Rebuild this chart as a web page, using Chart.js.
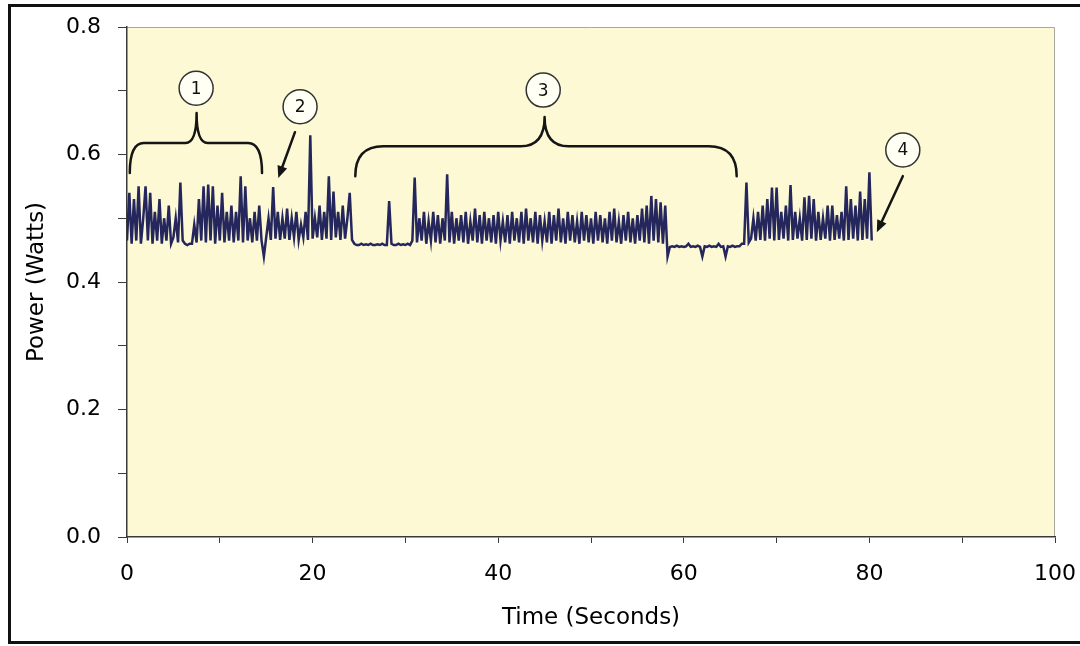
<!DOCTYPE html>
<html>
<head>
<meta charset="utf-8">
<title>Power trace</title>
<script src="https://cdn.jsdelivr.net/npm/chart.js@4.4.1/dist/chart.umd.min.js"></script>
<style>
    html, body { margin: 0; padding: 0; background: #fff; }
    canvas { display: block; }
</style>
</head>
<body>
<canvas id="powerChart" width="1080" height="646"></canvas>
<script>
// =====================
// Data (one row = one second, 4 samples per second)
// =====================
const sampleStep = 0.25; // seconds between samples
const power = [
    0.465, 0.54, 0.46, 0.53,
    0.465, 0.55, 0.46, 0.50,
    0.55, 0.465, 0.54, 0.46,
    0.51, 0.465, 0.53, 0.46,
    0.50, 0.465, 0.52, 0.46,
    0.47, 0.50, 0.462, 0.556,
    0.465, 0.46, 0.458, 0.46,
    0.46, 0.49, 0.462, 0.53,
    0.465, 0.55, 0.462, 0.553,
    0.465, 0.55, 0.46, 0.52,
    0.465, 0.54, 0.462, 0.51,
    0.465, 0.52, 0.462, 0.51,
    0.465, 0.566, 0.462, 0.55,
    0.465, 0.50, 0.462, 0.51,
    0.465, 0.52, 0.465, 0.44,
    0.47, 0.50, 0.466, 0.549,
    0.468, 0.51, 0.466, 0.50,
    0.468, 0.515, 0.466, 0.50,
    0.47, 0.51, 0.466, 0.49,
    0.47, 0.51, 0.466, 0.63,
    0.468, 0.50, 0.47, 0.52,
    0.466, 0.51, 0.468, 0.566,
    0.466, 0.542, 0.47, 0.51,
    0.466, 0.52, 0.468, 0.50,
    0.54, 0.466, 0.46, 0.458,
    0.458, 0.46, 0.458, 0.459,
    0.458, 0.46, 0.458, 0.458,
    0.459, 0.458, 0.46, 0.458,
    0.458, 0.527, 0.46, 0.458,
    0.458, 0.46, 0.458, 0.459,
    0.458, 0.46, 0.458, 0.465,
    0.564, 0.462, 0.50, 0.465,
    0.51, 0.46, 0.495, 0.465,
    0.51, 0.462, 0.505, 0.46,
    0.50, 0.465, 0.569, 0.462,
    0.51, 0.46, 0.50, 0.465,
    0.505, 0.462, 0.51, 0.46,
    0.495, 0.465, 0.515, 0.462,
    0.505, 0.46, 0.51, 0.465,
    0.50, 0.462, 0.505, 0.46,
    0.51, 0.465, 0.495, 0.462,
    0.505, 0.46, 0.51, 0.465,
    0.50, 0.462, 0.51, 0.46,
    0.515, 0.465, 0.50, 0.462,
    0.51, 0.46, 0.505, 0.465,
    0.495, 0.462, 0.51, 0.46,
    0.505, 0.465, 0.515, 0.462,
    0.50, 0.46, 0.51, 0.465,
    0.505, 0.462, 0.495, 0.46,
    0.51, 0.465, 0.505, 0.462,
    0.50, 0.46, 0.51, 0.465,
    0.505, 0.462, 0.50, 0.46,
    0.51, 0.465, 0.515, 0.462,
    0.495, 0.46, 0.505, 0.465,
    0.51, 0.462, 0.50, 0.46,
    0.505, 0.465, 0.515, 0.462,
    0.52, 0.46, 0.535, 0.465,
    0.53, 0.462, 0.525, 0.46,
    0.52, 0.44, 0.455, 0.456,
    0.455, 0.457, 0.455, 0.456,
    0.455, 0.456, 0.46, 0.455,
    0.456, 0.455, 0.457, 0.455,
    0.44, 0.456, 0.455, 0.457,
    0.455, 0.456, 0.455, 0.46,
    0.455, 0.456, 0.44, 0.456,
    0.455, 0.457, 0.455, 0.456,
    0.456, 0.46, 0.46, 0.556,
    0.462, 0.468, 0.50, 0.465,
    0.51, 0.466, 0.52, 0.465,
    0.53, 0.468, 0.548, 0.465,
    0.548, 0.466, 0.51, 0.468,
    0.52, 0.465, 0.552, 0.466,
    0.51, 0.468, 0.50, 0.465,
    0.533, 0.466, 0.535, 0.468,
    0.53, 0.465, 0.51, 0.466,
    0.50, 0.468, 0.52, 0.465,
    0.52, 0.466, 0.505, 0.468,
    0.51, 0.465, 0.55, 0.466,
    0.53, 0.468, 0.52, 0.465,
    0.542, 0.466, 0.53, 0.468,
    0.572, 0.465
];

const xTickLabels = ['0', '20', '40', '60', '80', '100'];
const yTickLabels = ['0.0', '0.2', '0.4', '0.6', '0.8'];

// =====================
// Callouts (in data units)
// =====================
const braces = [
    { from: 0.3, to: 14.55, tip: 7.5, end: 0.571, bar: 0.618, top: 0.665, r: 14, rTip: 11 },
    { from: 24.6, to: 65.7, tip: 45.0, end: 0.566, bar: 0.613, top: 0.659, r: 28, rTip: 24 }
];
const markers = [
    { label: '1', t: 7.45, v: 0.704 },
    { label: '2', t: 18.65, v: 0.675 },
    { label: '3', t: 44.85, v: 0.701 },
    { label: '4', t: 83.6, v: 0.607 }
];
const arrows = [
    { t0: 18.1, v0: 0.635, t1: 16.3, v1: 0.563 },
    { t0: 83.6, v0: 0.566, t1: 80.8, v1: 0.478 }
];

const points = power.map((p, i) => ({ x: i * sampleStep, y: p }));

const framePlugin = {
    id: 'frame',
    beforeDraw(chart) {
        const { ctx, chartArea: a } = chart;
        ctx.save();
        ctx.fillStyle = '#ffffff';
        ctx.fillRect(0, 0, chart.width, chart.height);
        ctx.fillStyle = '#fcf9d4';
        ctx.fillRect(a.left, a.top, a.right - a.left, a.bottom - a.top);
        ctx.strokeStyle = '#a8a8a0';
        ctx.lineWidth = 1;
        ctx.beginPath();
        ctx.moveTo(a.left, a.top + 0.5);
        ctx.lineTo(a.right - 0.5, a.top + 0.5);
        ctx.lineTo(a.right - 0.5, a.bottom);
        ctx.stroke();
        // outer black border
        ctx.strokeStyle = '#111';
        ctx.lineWidth = 3;
        ctx.strokeRect(9.5, 5.5, chart.width + 10, chart.height - 9);
        ctx.restore();
    }
};

const calloutPlugin = {
    id: 'callouts',
    afterDatasetsDraw(chart) {
        const { ctx } = chart;
        const xs = chart.scales.x, ys = chart.scales.y;
        ctx.save();
        ctx.strokeStyle = '#151515';
        ctx.lineWidth = 2.5;
        ctx.lineCap = 'round';
        ctx.lineJoin = 'round';
        braces.forEach(b => {
            const x0 = xs.getPixelForValue(b.from), x1 = xs.getPixelForValue(b.to);
            const xm = xs.getPixelForValue(b.tip);
            const yE = ys.getPixelForValue(b.end), yB = ys.getPixelForValue(b.bar), yT = ys.getPixelForValue(b.top);
            ctx.beginPath();
            ctx.moveTo(x0, yE);
            ctx.quadraticCurveTo(x0, yB, x0 + b.r, yB);
            ctx.lineTo(xm - b.rTip, yB);
            ctx.quadraticCurveTo(xm, yB, xm, yT);
            ctx.quadraticCurveTo(xm, yB, xm + b.rTip, yB);
            ctx.lineTo(x1 - b.r, yB);
            ctx.quadraticCurveTo(x1, yB, x1, yE);
            ctx.stroke();
        });

        ctx.fillStyle = '#151515';
        ctx.lineWidth = 2.5;
        arrows.forEach(a => {
            const x0 = xs.getPixelForValue(a.t0), y0 = ys.getPixelForValue(a.v0);
            const x1 = xs.getPixelForValue(a.t1), y1 = ys.getPixelForValue(a.v1);
            const ang = Math.atan2(y1 - y0, x1 - x0);
            const head = 13;
            ctx.beginPath();
            ctx.moveTo(x0, y0);
            ctx.lineTo(x1 - Math.cos(ang) * head * 0.7, y1 - Math.sin(ang) * head * 0.7);
            ctx.stroke();
            ctx.beginPath();
            ctx.moveTo(x1, y1);
            ctx.lineTo(x1 - head * Math.cos(ang - 0.4), y1 - head * Math.sin(ang - 0.4));
            ctx.lineTo(x1 - head * Math.cos(ang + 0.4), y1 - head * Math.sin(ang + 0.4));
            ctx.closePath();
            ctx.fill();
        });

        markers.forEach(m => {
            const x = xs.getPixelForValue(m.t), y = ys.getPixelForValue(m.v);
            ctx.beginPath();
            ctx.arc(x, y, 17, 0, Math.PI * 2);
            ctx.fillStyle = '#fffff4';
            ctx.fill();
            ctx.strokeStyle = '#333';
            ctx.lineWidth = 1.5;
            ctx.stroke();
            ctx.fillStyle = '#111';
            ctx.font = '17px "DejaVu Sans"';
            ctx.textAlign = 'center';
            ctx.textBaseline = 'middle';
            ctx.fillText(m.label, x, y + 1);
        });
        ctx.restore();
    }
};

const tickFont = { family: '"DejaVu Sans", Verdana, sans-serif', size: 22 };
const titleFont = { family: '"DejaVu Sans", Verdana, sans-serif', size: 23 };

new Chart(document.getElementById('powerChart'), {
    type: 'line',
    data: {
        datasets: [{
            data: points,
            borderColor: '#25275c',
            borderWidth: 2.5,
            pointRadius: 0,
            tension: 0,
            fill: false
        }]
    },
    options: {
        responsive: false,
        animation: false,
        devicePixelRatio: 1,
        layout: { padding: { left: 0, right: 25, top: 27, bottom: 0 } },
        plugins: {
            legend: { display: false },
            tooltip: { enabled: false }
        },
        scales: {
            x: {
                type: 'linear',
                min: 0,
                max: 100,
                afterFit: s => {
                    s.height = 109;
                    s.paddingLeft = 0;
                    s.paddingRight = 0;
                },
                border: { color: '#3a3a3a', width: 1.5 },
                grid: { drawOnChartArea: false, drawTicks: true, tickLength: 6, color: '#3a3a3a' },
                ticks: {
                    stepSize: 10,
                    padding: 18,
                    color: '#000',
                    font: tickFont,
                    maxRotation: 0,
                    autoSkip: false,
                    callback: v => xTickLabels.includes(String(v)) ? String(v) : ''
                },
                title: {
                    display: true,
                    text: 'Time (Seconds)',
                    color: '#000',
                    font: titleFont,
                    padding: { top: 0, bottom: 14 }
                }
            },
            y: {
                min: 0,
                max: 0.8,
                afterFit: s => {
                    s.width = 127;
                    s.paddingTop = 0;
                    s.paddingBottom = 0;
                },
                border: { color: '#3a3a3a', width: 1.5 },
                grid: { drawOnChartArea: false, drawTicks: true, tickLength: 9, color: '#3a3a3a' },
                ticks: {
                    stepSize: 0.1,
                    padding: 17,
                    color: '#000',
                    font: tickFont,
                    autoSkip: false,
                    callback: v => {
                        const lab = (Math.round(v * 10) / 10).toFixed(1);
                        return yTickLabels.includes(lab) ? lab : '';
                    }
                },
                title: {
                    display: true,
                    text: 'Power (Watts)',
                    color: '#000',
                    font: titleFont,
                    padding: { top: 23, bottom: 0 }
                }
            }
        }
    },
    plugins: [framePlugin, calloutPlugin]
});
</script>
</body>
</html>
